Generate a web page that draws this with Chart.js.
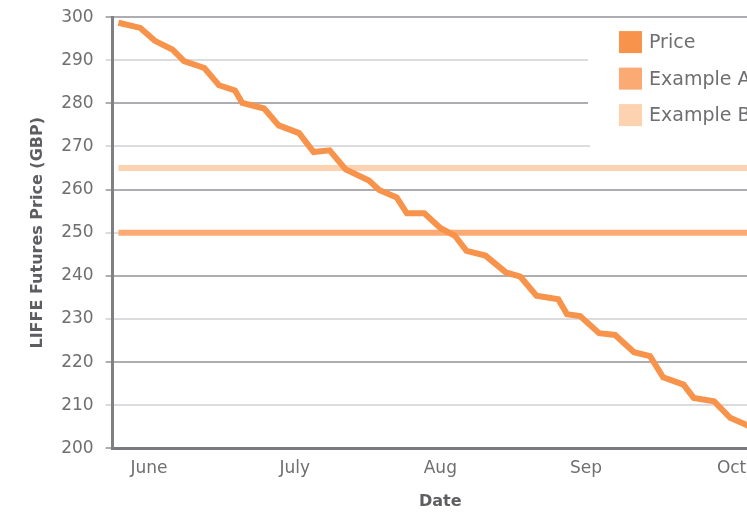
<!DOCTYPE html>
<html>
<head>
<meta charset="utf-8">
<script src="https://cdn.jsdelivr.net/npm/chart.js@4.4.1/dist/chart.umd.min.js"></script>
<style>
  html, body { margin: 0; padding: 0; background: #ffffff; overflow: hidden; }
  #wrap { width: 800px; height: 513px; }
</style>
</head>
<body>
<div id="wrap"><canvas id="chart" width="800" height="513"></canvas></div>
<script>
// Month ticks on the date axis (month number, label)
const monthPositions = [6, 7, 8, 9, 10];
const monthLabels = ['June', 'July', 'Aug', 'Sep', 'Oct'];

// Trading dates, expressed as fractional month numbers
const priceDates = [
  5.79, 5.94, 6.04, 6.16, 6.24, 6.38, 6.48, 6.59, 6.64, 6.79,
  6.89, 7.03, 7.13, 7.24, 7.35, 7.51, 7.58, 7.70, 7.77, 7.89,
  8.00, 8.10, 8.18, 8.31, 8.45, 8.55, 8.66, 8.81, 8.87, 8.96,
  9.09, 9.20, 9.33, 9.44, 9.53, 9.67, 9.74, 9.88, 9.99, 10.10,
  10.22
];

// LIFFE futures settlement price (GBP)
const priceValues = [
  298.7, 297.5, 294.5, 292.5, 289.8, 288.2, 284.2, 283.0, 280.1, 278.8,
  274.9, 273.1, 268.7, 269.1, 264.7, 262.1, 259.9, 258.2, 254.5, 254.5,
  251.1, 249.3, 245.8, 244.7, 240.8, 239.8, 235.4, 234.6, 231.1, 230.7,
  226.7, 226.3, 222.3, 221.4, 216.5, 214.8, 211.7, 210.9, 207.1, 205.5,
  203.6
];

// Fixed reference prices
const exampleALevel = 250;
const exampleBLevel = 265;
const levelDates = [5.79, 10.25];

const seriesNames = ['Price', 'Example A', 'Example B'];
const seriesColors = ['#f7934a', '#fbaa73', '#fdd2b1'];

const yMin = 200, yMax = 300, yStep = 10;

const xTickFont = { family: 'DejaVu Sans', size: 17 };
// compact line height keeps the top tick label from pushing the plot down
const yTickFont = { family: 'DejaVu Sans', size: 17, lineHeight: 0.6 };
const titleFont = { family: 'DejaVu Sans', size: 16, weight: 'bold' };
const textColor = '#6f6f72';
const titleColor = '#5e5e62';

// Legend drawn as a rounded white panel inside the plot area
const insideLegend = {
  id: 'insideLegend',
  afterDatasetsDraw(chart) {
    const { ctx, chartArea } = chart;
    const bx = chartArea.right - 180;
    const by = chartArea.top + 4;
    const bw = 200, bh = 129, r = 10;
    ctx.save();
    ctx.fillStyle = '#ffffff';
    ctx.beginPath();
    ctx.roundRect(bx, by, bw, bh, r);
    ctx.fill();
    ctx.font = '19px "DejaVu Sans"';
    ctx.textBaseline = 'middle';
    ctx.textAlign = 'left';
    chart.data.datasets.forEach((ds, i) => {
      const cy = by + 21 + i * 36.5;
      ctx.fillStyle = ds.borderColor;
      ctx.fillRect(bx + 31, cy - 11, 23, 22);
      ctx.fillStyle = textColor;
      ctx.fillText(ds.label, bx + 61, cy + 1);
    });
    ctx.restore();
  }
};

new Chart(document.getElementById('chart'), {
  type: 'line',
  data: {
    datasets: [
      {
        label: seriesNames[0],
        data: priceDates.map((d, i) => ({ x: d, y: priceValues[i] })),
        borderColor: seriesColors[0],
        backgroundColor: seriesColors[0],
        borderWidth: 6,
        pointRadius: 0,
        tension: 0
      },
      {
        label: seriesNames[1],
        data: levelDates.map(d => ({ x: d, y: exampleALevel })),
        borderColor: seriesColors[1],
        backgroundColor: seriesColors[1],
        borderWidth: 6,
        pointRadius: 0
      },
      {
        label: seriesNames[2],
        data: levelDates.map(d => ({ x: d, y: exampleBLevel })),
        borderColor: seriesColors[2],
        backgroundColor: seriesColors[2],
        borderWidth: 6,
        pointRadius: 0
      }
    ]
  },
  options: {
    responsive: false,
    animation: false,
    layout: { padding: { left: 22, right: 32, top: 17, bottom: 0 } },
    plugins: {
      legend: { display: false },
      tooltip: { enabled: false }
    },
    scales: {
      x: {
        type: 'linear',
        min: 5.75,
        max: 10.25,
        afterBuildTicks(scale) {
          scale.ticks = monthPositions.map(v => ({ value: v }));
        },
        ticks: {
          font: xTickFont,
          color: textColor,
          padding: 10,
          maxRotation: 0,
          callback: v => monthLabels[monthPositions.indexOf(v)]
        },
        grid: { display: false, drawTicks: false },
        border: { display: true, color: '#7a7a7e', width: 3 },
        title: {
          display: true,
          text: 'Date',
          font: titleFont,
          color: titleColor,
          padding: { top: 3, bottom: 2 }
        }
      },
      y: {
        min: yMin,
        max: yMax,
        ticks: {
          stepSize: yStep,
          font: yTickFont,
          color: textColor,
          padding: 12
        },
        grid: {
          color: c => (c.tick && c.tick.value % 20 === 0) ? '#adadb2' : '#dcdcde',
          lineWidth: 2,
          tickLength: 7
        },
        border: { display: true, color: '#808084', width: 3 },
        title: {
          display: true,
          text: 'LIFFE Futures Price (GBP)',
          font: titleFont,
          color: titleColor,
          padding: { top: 6, bottom: 2 }
        }
      }
    }
  },
  plugins: [insideLegend]
});
</script>
</body>
</html>
